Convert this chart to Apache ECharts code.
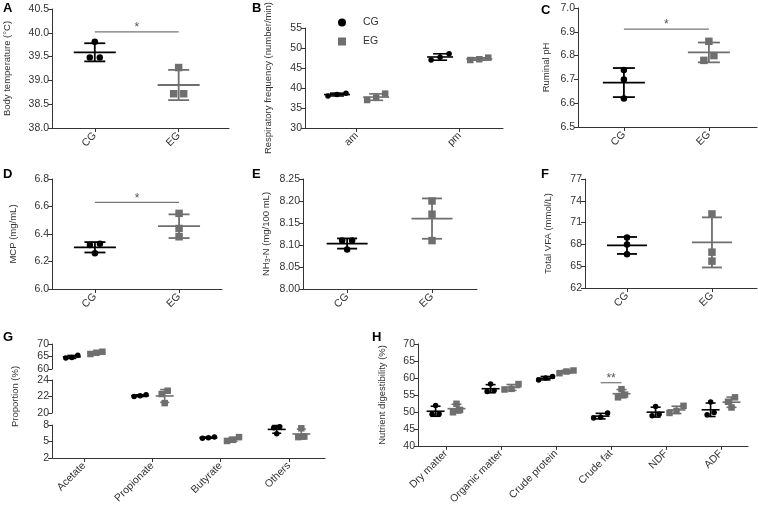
<!DOCTYPE html>
<html><head><meta charset="utf-8">
<script src="https://cdn.jsdelivr.net/npm/echarts@6/dist/echarts.min.js"></script>
<style>html,body{margin:0;padding:0;background:#fff}#c{width:758px;height:507px}</style>
</head><body><div id="c"></div><script>
// ---------------- data ----------------
const groupCats = ['CG', 'EG'];
const timeCats = ['am', 'pm'];
const vfaCats = ['Acetate', 'Propionate', 'Butyrate', 'Others'];
const nutrCats = ['Dry matter', 'Organic matter', 'Crude protein', 'Crude fat', 'NDF', 'ADF'];

// A body temperature (°C)
const tempCG = [39.81, 39.48, 39.48];
const tempEG = [39.27, 38.72, 38.72];
// B respiratory frequency, [am, pm]
const respCG = [[38.7, 38.0, 38.4], [48.6, 47.7, 47.0]];
const respEG = [[38.6, 37.6, 37.0], [47.6, 47.0, 47.2]];
// C ruminal pH
const phCG = [6.74, 6.70, 6.62];
const phEG = [6.86, 6.80, 6.78];
// D MCP
const mcpCG = [6.33, 6.32, 6.26];
const mcpEG = [6.55, 6.44, 6.38];
// E NH3-N
const nh3CG = [8.11, 8.11, 8.09];
const nh3EG = [8.20, 8.17, 8.11];
// F total VFA
const vfaCG = [68.95, 67.98, 66.63];
const vfaEG = [72.19, 66.93, 65.70];
// G VFA proportion (%), per category
const propCG = [[65.5, 64.4, 64.6], [22.2, 22.1, 22.0], [5.8, 5.7, 5.6], [7.7, 7.5, 6.4]];
const propEG = [[66.9, 66.5, 66.0], [22.7, 22.3, 21.2], [5.8, 5.3, 5.1], [7.4, 5.9, 5.8]];
// H nutrient digestibility (%)
const digCG = [[51.9, 49.4, 49.3], [58.2, 56.3, 56.0], [60.4, 60.0, 59.4], [49.7, 48.4, 48.2], [51.6, 49.3, 48.9], [52.9, 49.8, 49.2]];
const digEG = [[52.4, 50.6, 49.9], [58.2, 56.8, 56.6], [62.2, 61.9, 61.4], [56.7, 55.1, 54.3], [51.8, 50.3, 49.7], [54.3, 53.0, 51.3]];

// significance annotations [fromCat, toCat, y, label]
const sigA = [0, 1, 40.02, '*'];
const sigC = [0, 1, 6.911, '*'];
const sigD = [0, 1, 6.63, '*'];
const sigH = [2.81, 3.19, 58.6, '**'];

// ---------------- style ----------------
const AX = '#333', TX = '#333', CGC = '#000', EGC = '#6f6f6f', SIGC = '#777';
const FONT = "'Liberation Sans', Arial, sans-serif";
const NFONT = "'Liberation Sans Narrow', 'Liberation Sans', Arial, sans-serif";

const option = {
  animation: false, backgroundColor: '#fff',
  grid: [], xAxis: [], yAxis: [], series: [], graphic: [],
  legend: {
    data: [{ name: 'CG', icon: 'circle' }, { name: 'EG', icon: 'rect' }],
    orient: 'vertical', left: 333, top: 12, itemWidth: 8, itemHeight: 8, itemGap: 8,
    selectedMode: false,
    textStyle: { fontSize: 10.5, color: TX, fontFamily: FONT, padding: [0, 0, 0, 12] }
  }
};

const mean = a => a.reduce((s, v) => s + v, 0) / a.length;
const sd = a => { const m = mean(a); return Math.sqrt(a.reduce((s, v) => s + (v - m) * (v - m), 0) / (a.length - 1)); };

function clusterOffsets(vals, pxPerY, thrPx, spacingPx) {
  const idx = vals.map((v, i) => i).sort((a, b) => vals[a] - vals[b]);
  const off = new Array(vals.length).fill(0);
  let cl = [idx[0]];
  const flush = () => { const n = cl.length; cl.forEach((ii, k) => { off[ii] = (k - (n - 1) / 2) * spacingPx; }); };
  for (let k = 1; k < idx.length; k++) {
    if ((vals[idx[k]] - vals[idx[k - 1]]) * pxPerY < thrPx) cl.push(idx[k]);
    else { flush(); cl = [idx[k]]; }
  }
  flush();
  return off;
}

function addPanel(p) {
  const gi = option.grid.length;
  option.grid.push({ left: p.left, top: p.top, width: p.width, height: p.height });
  const ticks = p.cats.map((_, i) => i);
  option.xAxis.push({
    type: 'value', gridIndex: gi, min: p.xmin, max: p.xmax, show: p.showX !== false,
    axisLine: { show: true, onZero: false, lineStyle: { color: AX, width: 1 } },
    axisTick: { show: true, customValues: ticks, length: 4, lineStyle: { color: AX } },
    axisLabel: { customValues: ticks, rotate: 45, margin: 6, fontSize: 10.5, color: TX, fontFamily: FONT,
      formatter: v => p.cats[Math.round(v)] },
    splitLine: { show: false }
  });
  option.yAxis.push({
    type: 'value', gridIndex: gi, min: p.ymin, max: p.ymax, interval: p.interval,
    axisLine: { show: true, onZero: false, lineStyle: { color: AX, width: 1 } },
    axisTick: { show: true, length: 4, lineStyle: { color: AX } },
    axisLabel: { fontSize: 10.5, color: TX, fontFamily: FONT, margin: 3, formatter: v => v.toFixed(p.dec) },
    splitLine: { show: false },
    name: p.title || '', nameLocation: 'middle', nameGap: p.nameGap || 30,
    nameTextStyle: { fontSize: 9.5, color: TX, fontFamily: NFONT,
      rich: { sub: { fontSize: 7, fontFamily: NFONT, color: TX, padding: [5, 0, 0, 0] } } }
  });
  const pxX = p.width / (p.xmax - p.xmin), pxY = p.height / (p.ymax - p.ymin);
  p.groups.forEach(g => {
    const pts = [], bars = [];
    g.values.forEach((vals, c) => {
      if (!vals || (p.only && p.only.indexOf(c) < 0)) return;
      const base = c + g.offset;
      const offs = clusterOffsets(vals, pxY, 6, p.spacing);
      vals.forEach((v, i) => pts.push([base + offs[i] / pxX, v]));
      bars.push([base, mean(vals), sd(vals)]);
    });
    option.series.push({
      type: 'scatter', name: g.name, xAxisIndex: gi, yAxisIndex: gi, data: pts,
      symbol: g.symbol, symbolSize: g.symbol === 'rect' ? p.size + 1 : p.size,
      itemStyle: { color: g.color, opacity: 1 }, z: 2, silent: true
    });
    option.series.push({
      type: 'custom', name: g.name + ' mean±SD', xAxisIndex: gi, yAxisIndex: gi, data: bars, z: 3, silent: true,
      encode: { x: 0, y: 1 },
      renderItem: (params, api) => {
        const x = api.value(0), m = api.value(1), s = api.value(2);
        const pm = api.coord([x, m]), pt = api.coord([x, m + s]), pb = api.coord([x, m - s]);
        const st = { stroke: g.color, lineWidth: p.lw };
        const mh = p.meanHalf, ch = p.capHalf;
        return { type: 'group', children: [
          { type: 'line', shape: { x1: pm[0] - mh, y1: pm[1], x2: pm[0] + mh, y2: pm[1] }, style: st },
          { type: 'line', shape: { x1: pt[0], y1: pt[1], x2: pb[0], y2: pb[1] }, style: st },
          { type: 'line', shape: { x1: pt[0] - ch, y1: pt[1], x2: pt[0] + ch, y2: pt[1] }, style: st },
          { type: 'line', shape: { x1: pb[0] - ch, y1: pb[1], x2: pb[0] + ch, y2: pb[1] }, style: st }
        ] };
      }
    });
  });
  if (p.sig) {
    option.series.push({
      type: 'custom', name: 'sig', xAxisIndex: gi, yAxisIndex: gi, data: [p.sig], z: 4, silent: true,
      encode: { x: [0, 1], y: 2 },
      renderItem: (params, api) => {
        const a = api.coord([api.value(0), api.value(2)]), b = api.coord([api.value(1), api.value(2)]);
        return { type: 'group', children: [
          { type: 'line', shape: { x1: a[0], y1: a[1], x2: b[0], y2: b[1] }, style: { stroke: SIGC, lineWidth: 1.2 } },
          { type: 'text', style: { text: p.sig[3], x: (a[0] + b[0]) / 2, y: a[1] + 2, align: 'center', verticalAlign: 'bottom',
            fontSize: 12, fontFamily: FONT, fill: '#555' } }
        ] };
      }
    });
  }
}

const twoGroups = (cg, eg) => [
  { name: 'CG', color: CGC, symbol: 'circle', offset: 0, values: [cg, null] },
  { name: 'EG', color: EGC, symbol: 'rect', offset: 0, values: [null, eg] }
];
const pairGroups = (cg, eg, off) => [
  { name: 'CG', color: CGC, symbol: 'circle', offset: -off, values: cg },
  { name: 'EG', color: EGC, symbol: 'rect', offset: off, values: eg }
];

// A
addPanel({ left: 52, top: 9, width: 177, height: 119, xmin: -0.51, xmax: 1.6, cats: groupCats,
  ymin: 38.0, ymax: 40.5, interval: 0.5, dec: 1, title: 'Body temperature (°C)', nameGap: 40,
  groups: twoGroups(tempCG, tempEG), size: 6.5, spacing: 10, meanHalf: 21, capHalf: 10.5, lw: 1.8, sig: sigA });
// B
addPanel({ left: 305, top: 7, width: 198, height: 121, xmin: -0.5, xmax: 1.42, cats: timeCats,
  ymin: 30, ymax: 55, interval: 5, dec: 0, title: 'Respiratory frequency (number/min)', nameGap: 32,
  groups: pairGroups(respCG, respEG, 0.19), size: 5.5, spacing: 9, meanHalf: 13, capHalf: 7, lw: 1.6 });
// C
addPanel({ left: 578, top: 8, width: 179, height: 119, xmin: -0.54, xmax: 1.566, cats: groupCats,
  ymin: 6.5, ymax: 7.0, interval: 0.1, dec: 1, title: 'Ruminal pH', nameGap: 27,
  groups: twoGroups(phCG, phEG), size: 6.5, spacing: 10, meanHalf: 21, capHalf: 11, lw: 1.8, sig: sigC });
// D
addPanel({ left: 52, top: 179, width: 170, height: 110, xmin: -0.51, xmax: 1.51, cats: groupCats,
  ymin: 6.0, ymax: 6.8, interval: 0.2, dec: 1, title: 'MCP (mg/mL)', nameGap: 34,
  groups: twoGroups(mcpCG, mcpEG), size: 6.5, spacing: 10, meanHalf: 21, capHalf: 10.5, lw: 1.8, sig: sigD });
// E
addPanel({ left: 303, top: 179, width: 174, height: 110, xmin: -0.52, xmax: 1.53, cats: groupCats,
  ymin: 8.0, ymax: 8.25, interval: 0.05, dec: 2, title: 'NH{sub|3}-N (mg/100 mL)', nameGap: 31,
  groups: twoGroups(nh3CG, nh3EG), size: 6.5, spacing: 10, meanHalf: 20.5, capHalf: 10, lw: 1.8 });
// F
addPanel({ left: 585, top: 179, width: 172, height: 109, xmin: -0.494, xmax: 1.53, cats: groupCats,
  ymin: 62, ymax: 77, interval: 3, dec: 0, title: 'Total VFA (mmol/L)', nameGap: 32,
  groups: twoGroups(vfaCG, vfaEG), size: 6.5, spacing: 10, meanHalf: 20, capHalf: 10, lw: 1.8 });
// G (broken axis, three segments)
const gBase = { left: 52, width: 273, xmin: -0.47, xmax: 3.527, cats: vfaCats,
  groups: pairGroups(propCG, propEG, 0.18), size: 5.5, spacing: 6, meanHalf: 9, capHalf: 4.5, lw: 1.6 };
addPanel(Object.assign({}, gBase, { top: 344, height: 25, ymin: 60, ymax: 70, interval: 5, dec: 0, only: [0], showX: false }));
addPanel(Object.assign({}, gBase, { top: 380, height: 33, ymin: 20, ymax: 24, interval: 2, dec: 0, only: [1], showX: false,
  title: 'Proportion (%)', nameGap: 32 }));
addPanel(Object.assign({}, gBase, { top: 425, height: 33, ymin: 2, ymax: 8, interval: 3, dec: 0, only: [2, 3] }));
// H
addPanel({ left: 418, top: 344, width: 330, height: 114, xmin: -0.51, xmax: 5.49, cats: nutrCats,
  ymin: 40, ymax: 70, interval: 5, dec: 0, title: 'Nutrient digestibility (%)', nameGap: 31,
  groups: pairGroups(digCG, digEG, 0.19), size: 5.5, spacing: 7, meanHalf: 9, capHalf: 5, lw: 1.6, sig: sigH });

// panel letters
[['A', 3, 2], ['B', 252, 2], ['C', 541, 4], ['D', 3, 168], ['E', 252, 168], ['F', 541, 168], ['G', 3, 331], ['H', 372, 331]]
  .forEach(([t, x, y]) => option.graphic.push({ type: 'text', left: x, top: y,
    style: { text: t, fontSize: 13, fontWeight: 'bold', fontFamily: FONT, fill: '#000' } }));

const chart = echarts.init(document.getElementById('c'), null, { renderer: 'canvas' });
chart.setOption(option);
</script></body></html>
